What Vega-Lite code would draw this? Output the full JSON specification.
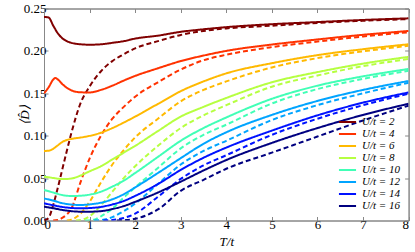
{
 "$schema": "https://vega.github.io/schema/vega-lite/v6.json",
 "width": 364.6, "height": 212,
 "autosize": "none",
 "padding": {"left": 44, "top": 8.5, "right": 6.4, "bottom": 31.5},
 "config": {
  "font": "Liberation Serif",
  "view": {"stroke": "#888", "strokeWidth": 1},
  "axis": {"labelFont": "Liberation Serif", "labelFontSize": 13, "labelColor": "#000", "titleFont": "Liberation Serif", "titleFontSize": 13, "titleFontWeight": "normal", "titleFontStyle": "italic", "titleColor": "#000", "tickColor": "#888", "domainColor": "#888", "grid": false, "tickSize": -4, "labelPadding": 2},
  "legend": {"labelFont": "Liberation Serif", "labelFontSize": 11, "labelFontStyle": "italic", "labelColor": "#000", "symbolType": "M-1.9,0H1.9", "symbolSize": 81, "symbolStrokeWidth": 2, "rowPadding": 0, "labelOffset": 9, "padding": 0}
 },
 "data": {"values": [
  {"T":0,"D":0.240,"U":2,"k":"s"},{"T":0.1,"D":0.2395,"U":2,"k":"s"},{"T":0.2,"D":0.230,"U":2,"k":"s"},{"T":0.3,"D":0.221,"U":2,"k":"s"},{"T":0.4,"D":0.215,"U":2,"k":"s"},{"T":0.5,"D":0.2115,"U":2,"k":"s"},{"T":0.6,"D":0.2095,"U":2,"k":"s"},{"T":0.8,"D":0.2078,"U":2,"k":"s"},{"T":1,"D":0.2073,"U":2,"k":"s"},{"T":1.25,"D":0.2078,"U":2,"k":"s"},{"T":1.5,"D":0.2095,"U":2,"k":"s"},{"T":1.75,"D":0.2115,"U":2,"k":"s"},{"T":2,"D":0.2145,"U":2,"k":"s"},{"T":2.5,"D":0.218,"U":2,"k":"s"},{"T":3,"D":0.2225,"U":2,"k":"s"},{"T":3.5,"D":0.2255,"U":2,"k":"s"},{"T":4,"D":0.228,"U":2,"k":"s"},{"T":5,"D":0.2315,"U":2,"k":"s"},{"T":6,"D":0.234,"U":2,"k":"s"},{"T":7,"D":0.2365,"U":2,"k":"s"},{"T":8,"D":0.2384,"U":2,"k":"s"},
  {"T":0,"D":0,"U":2,"k":"d"},{"T":0.1,"D":0.003,"U":2,"k":"d"},{"T":0.2,"D":0.018,"U":2,"k":"d"},{"T":0.3,"D":0.038,"U":2,"k":"d"},{"T":0.4,"D":0.06,"U":2,"k":"d"},{"T":0.5,"D":0.082,"U":2,"k":"d"},{"T":0.6,"D":0.103,"U":2,"k":"d"},{"T":0.8,"D":0.138,"U":2,"k":"d"},{"T":1,"D":0.158,"U":2,"k":"d"},{"T":1.25,"D":0.176,"U":2,"k":"d"},{"T":1.5,"D":0.188,"U":2,"k":"d"},{"T":1.75,"D":0.196,"U":2,"k":"d"},{"T":2,"D":0.203,"U":2,"k":"d"},{"T":2.5,"D":0.2115,"U":2,"k":"d"},{"T":3,"D":0.2188,"U":2,"k":"d"},{"T":3.5,"D":0.2235,"U":2,"k":"d"},{"T":4,"D":0.2265,"U":2,"k":"d"},{"T":5,"D":0.2297,"U":2,"k":"d"},{"T":6,"D":0.233,"U":2,"k":"d"},{"T":7,"D":0.2355,"U":2,"k":"d"},{"T":8,"D":0.2375,"U":2,"k":"d"},
  {"T":0,"D":0.150,"U":4,"k":"s"},{"T":0.1,"D":0.157,"U":4,"k":"s"},{"T":0.2,"D":0.166,"U":4,"k":"s"},{"T":0.25,"D":0.168,"U":4,"k":"s"},{"T":0.3,"D":0.1665,"U":4,"k":"s"},{"T":0.4,"D":0.161,"U":4,"k":"s"},{"T":0.5,"D":0.1565,"U":4,"k":"s"},{"T":0.6,"D":0.1535,"U":4,"k":"s"},{"T":0.8,"D":0.1512,"U":4,"k":"s"},{"T":1,"D":0.151,"U":4,"k":"s"},{"T":1.25,"D":0.154,"U":4,"k":"s"},{"T":1.5,"D":0.159,"U":4,"k":"s"},{"T":1.75,"D":0.165,"U":4,"k":"s"},{"T":2,"D":0.1705,"U":4,"k":"s"},{"T":2.5,"D":0.1795,"U":4,"k":"s"},{"T":3,"D":0.188,"U":4,"k":"s"},{"T":3.5,"D":0.1945,"U":4,"k":"s"},{"T":4,"D":0.2,"U":4,"k":"s"},{"T":5,"D":0.2075,"U":4,"k":"s"},{"T":6,"D":0.2135,"U":4,"k":"s"},{"T":7,"D":0.219,"U":4,"k":"s"},{"T":8,"D":0.2235,"U":4,"k":"s"},
  {"T":0.2,"D":0,"U":4,"k":"d"},{"T":0.3,"D":0.0005,"U":4,"k":"d"},{"T":0.4,"D":0.003,"U":4,"k":"d"},{"T":0.5,"D":0.007,"U":4,"k":"d"},{"T":0.6,"D":0.014,"U":4,"k":"d"},{"T":0.8,"D":0.045,"U":4,"k":"d"},{"T":1,"D":0.073,"U":4,"k":"d"},{"T":1.25,"D":0.1,"U":4,"k":"d"},{"T":1.5,"D":0.12,"U":4,"k":"d"},{"T":1.75,"D":0.134,"U":4,"k":"d"},{"T":2,"D":0.146,"U":4,"k":"d"},{"T":2.5,"D":0.163,"U":4,"k":"d"},{"T":3,"D":0.178,"U":4,"k":"d"},{"T":3.5,"D":0.189,"U":4,"k":"d"},{"T":4,"D":0.1955,"U":4,"k":"d"},{"T":5,"D":0.2045,"U":4,"k":"d"},{"T":6,"D":0.211,"U":4,"k":"d"},{"T":7,"D":0.217,"U":4,"k":"d"},{"T":8,"D":0.222,"U":4,"k":"d"},
  {"T":0,"D":0.082,"U":6,"k":"s"},{"T":0.1,"D":0.0823,"U":6,"k":"s"},{"T":0.2,"D":0.0845,"U":6,"k":"s"},{"T":0.3,"D":0.0885,"U":6,"k":"s"},{"T":0.4,"D":0.0925,"U":6,"k":"s"},{"T":0.5,"D":0.095,"U":6,"k":"s"},{"T":0.6,"D":0.0962,"U":6,"k":"s"},{"T":0.8,"D":0.0978,"U":6,"k":"s"},{"T":1,"D":0.0998,"U":6,"k":"s"},{"T":1.25,"D":0.1035,"U":6,"k":"s"},{"T":1.5,"D":0.109,"U":6,"k":"s"},{"T":1.75,"D":0.1155,"U":6,"k":"s"},{"T":2,"D":0.1225,"U":6,"k":"s"},{"T":2.5,"D":0.1375,"U":6,"k":"s"},{"T":3,"D":0.1525,"U":6,"k":"s"},{"T":3.5,"D":0.164,"U":6,"k":"s"},{"T":4,"D":0.1735,"U":6,"k":"s"},{"T":5,"D":0.1855,"U":6,"k":"s"},{"T":6,"D":0.195,"U":6,"k":"s"},{"T":7,"D":0.202,"U":6,"k":"s"},{"T":8,"D":0.2078,"U":6,"k":"s"},
  {"T":0.5,"D":0,"U":6,"k":"d"},{"T":0.6,"D":0.001,"U":6,"k":"d"},{"T":0.8,"D":0.008,"U":6,"k":"d"},{"T":1,"D":0.022,"U":6,"k":"d"},{"T":1.25,"D":0.045,"U":6,"k":"d"},{"T":1.5,"D":0.066,"U":6,"k":"d"},{"T":1.75,"D":0.083,"U":6,"k":"d"},{"T":2,"D":0.098,"U":6,"k":"d"},{"T":2.5,"D":0.12,"U":6,"k":"d"},{"T":3,"D":0.1405,"U":6,"k":"d"},{"T":3.5,"D":0.154,"U":6,"k":"d"},{"T":4,"D":0.164,"U":6,"k":"d"},{"T":5,"D":0.1805,"U":6,"k":"d"},{"T":6,"D":0.1915,"U":6,"k":"d"},{"T":7,"D":0.1995,"U":6,"k":"d"},{"T":8,"D":0.206,"U":6,"k":"d"},
  {"T":0,"D":0.0517,"U":8,"k":"s"},{"T":0.2,"D":0.0502,"U":8,"k":"s"},{"T":0.4,"D":0.0488,"U":8,"k":"s"},{"T":0.6,"D":0.0495,"U":8,"k":"s"},{"T":0.8,"D":0.053,"U":8,"k":"s"},{"T":1,"D":0.058,"U":8,"k":"s"},{"T":1.25,"D":0.064,"U":8,"k":"s"},{"T":1.5,"D":0.072,"U":8,"k":"s"},{"T":1.75,"D":0.08,"U":8,"k":"s"},{"T":2,"D":0.088,"U":8,"k":"s"},{"T":2.5,"D":0.1055,"U":8,"k":"s"},{"T":3,"D":0.1225,"U":8,"k":"s"},{"T":3.5,"D":0.134,"U":8,"k":"s"},{"T":4,"D":0.1445,"U":8,"k":"s"},{"T":5,"D":0.163,"U":8,"k":"s"},{"T":6,"D":0.175,"U":8,"k":"s"},{"T":7,"D":0.185,"U":8,"k":"s"},{"T":8,"D":0.193,"U":8,"k":"s"},
  {"T":0.7,"D":0,"U":8,"k":"d"},{"T":0.8,"D":0.0005,"U":8,"k":"d"},{"T":1,"D":0.005,"U":8,"k":"d"},{"T":1.25,"D":0.018,"U":8,"k":"d"},{"T":1.5,"D":0.034,"U":8,"k":"d"},{"T":1.75,"D":0.05,"U":8,"k":"d"},{"T":2,"D":0.064,"U":8,"k":"d"},{"T":2.5,"D":0.088,"U":8,"k":"d"},{"T":3,"D":0.109,"U":8,"k":"d"},{"T":3.5,"D":0.124,"U":8,"k":"d"},{"T":4,"D":0.136,"U":8,"k":"d"},{"T":5,"D":0.1578,"U":8,"k":"d"},{"T":6,"D":0.171,"U":8,"k":"d"},{"T":7,"D":0.182,"U":8,"k":"d"},{"T":8,"D":0.1905,"U":8,"k":"d"},
  {"T":0,"D":0.036,"U":10,"k":"s"},{"T":0.2,"D":0.033,"U":10,"k":"s"},{"T":0.4,"D":0.03,"U":10,"k":"s"},{"T":0.6,"D":0.0289,"U":10,"k":"s"},{"T":0.8,"D":0.0292,"U":10,"k":"s"},{"T":1,"D":0.0305,"U":10,"k":"s"},{"T":1.25,"D":0.034,"U":10,"k":"s"},{"T":1.5,"D":0.04,"U":10,"k":"s"},{"T":1.75,"D":0.047,"U":10,"k":"s"},{"T":2,"D":0.056,"U":10,"k":"s"},{"T":2.5,"D":0.075,"U":10,"k":"s"},{"T":3,"D":0.094,"U":10,"k":"s"},{"T":3.5,"D":0.109,"U":10,"k":"s"},{"T":4,"D":0.1215,"U":10,"k":"s"},{"T":5,"D":0.1435,"U":10,"k":"s"},{"T":6,"D":0.159,"U":10,"k":"s"},{"T":7,"D":0.17,"U":10,"k":"s"},{"T":8,"D":0.1787,"U":10,"k":"s"},
  {"T":0.9,"D":0,"U":10,"k":"d"},{"T":1.1,"D":0.001,"U":10,"k":"d"},{"T":1.25,"D":0.005,"U":10,"k":"d"},{"T":1.5,"D":0.014,"U":10,"k":"d"},{"T":1.75,"D":0.027,"U":10,"k":"d"},{"T":2,"D":0.039,"U":10,"k":"d"},{"T":2.5,"D":0.062,"U":10,"k":"d"},{"T":3,"D":0.085,"U":10,"k":"d"},{"T":3.5,"D":0.101,"U":10,"k":"d"},{"T":4,"D":0.113,"U":10,"k":"d"},{"T":5,"D":0.138,"U":10,"k":"d"},{"T":6,"D":0.155,"U":10,"k":"d"},{"T":7,"D":0.167,"U":10,"k":"d"},{"T":8,"D":0.1765,"U":10,"k":"d"},
  {"T":0,"D":0.026,"U":12,"k":"s"},{"T":0.2,"D":0.0235,"U":12,"k":"s"},{"T":0.4,"D":0.0205,"U":12,"k":"s"},{"T":0.6,"D":0.0188,"U":12,"k":"s"},{"T":0.8,"D":0.0183,"U":12,"k":"s"},{"T":1,"D":0.019,"U":12,"k":"s"},{"T":1.25,"D":0.021,"U":12,"k":"s"},{"T":1.5,"D":0.025,"U":12,"k":"s"},{"T":1.75,"D":0.031,"U":12,"k":"s"},{"T":2,"D":0.039,"U":12,"k":"s"},{"T":2.5,"D":0.056,"U":12,"k":"s"},{"T":3,"D":0.0735,"U":12,"k":"s"},{"T":3.5,"D":0.0905,"U":12,"k":"s"},{"T":4,"D":0.104,"U":12,"k":"s"},{"T":5,"D":0.1245,"U":12,"k":"s"},{"T":6,"D":0.141,"U":12,"k":"s"},{"T":7,"D":0.154,"U":12,"k":"s"},{"T":8,"D":0.1645,"U":12,"k":"s"},
  {"T":1.1,"D":0,"U":12,"k":"d"},{"T":1.25,"D":0.0005,"U":12,"k":"d"},{"T":1.5,"D":0.004,"U":12,"k":"d"},{"T":1.75,"D":0.011,"U":12,"k":"d"},{"T":2,"D":0.02,"U":12,"k":"d"},{"T":2.5,"D":0.043,"U":12,"k":"d"},{"T":3,"D":0.066,"U":12,"k":"d"},{"T":3.5,"D":0.082,"U":12,"k":"d"},{"T":4,"D":0.094,"U":12,"k":"d"},{"T":5,"D":0.1185,"U":12,"k":"d"},{"T":6,"D":0.136,"U":12,"k":"d"},{"T":7,"D":0.15,"U":12,"k":"d"},{"T":8,"D":0.1625,"U":12,"k":"d"},
  {"T":0,"D":0.0203,"U":14,"k":"s"},{"T":0.2,"D":0.018,"U":14,"k":"s"},{"T":0.4,"D":0.016,"U":14,"k":"s"},{"T":0.6,"D":0.0148,"U":14,"k":"s"},{"T":0.8,"D":0.0144,"U":14,"k":"s"},{"T":1,"D":0.0147,"U":14,"k":"s"},{"T":1.25,"D":0.016,"U":14,"k":"s"},{"T":1.5,"D":0.019,"U":14,"k":"s"},{"T":1.75,"D":0.023,"U":14,"k":"s"},{"T":2,"D":0.029,"U":14,"k":"s"},{"T":2.5,"D":0.043,"U":14,"k":"s"},{"T":3,"D":0.0596,"U":14,"k":"s"},{"T":3.5,"D":0.074,"U":14,"k":"s"},{"T":4,"D":0.086,"U":14,"k":"s"},{"T":5,"D":0.106,"U":14,"k":"s"},{"T":6,"D":0.124,"U":14,"k":"s"},{"T":7,"D":0.139,"U":14,"k":"s"},{"T":8,"D":0.151,"U":14,"k":"s"},
  {"T":1.3,"D":0,"U":14,"k":"d"},{"T":1.5,"D":0.0005,"U":14,"k":"d"},{"T":1.75,"D":0.003,"U":14,"k":"d"},{"T":2,"D":0.008,"U":14,"k":"d"},{"T":2.5,"D":0.028,"U":14,"k":"d"},{"T":3,"D":0.049,"U":14,"k":"d"},{"T":3.5,"D":0.065,"U":14,"k":"d"},{"T":4,"D":0.077,"U":14,"k":"d"},{"T":5,"D":0.101,"U":14,"k":"d"},{"T":6,"D":0.12,"U":14,"k":"d"},{"T":7,"D":0.136,"U":14,"k":"d"},{"T":8,"D":0.1495,"U":14,"k":"d"},
  {"T":0,"D":0.0163,"U":16,"k":"s"},{"T":0.2,"D":0.0145,"U":16,"k":"s"},{"T":0.4,"D":0.0125,"U":16,"k":"s"},{"T":0.6,"D":0.011,"U":16,"k":"s"},{"T":0.8,"D":0.0104,"U":16,"k":"s"},{"T":1,"D":0.0104,"U":16,"k":"s"},{"T":1.25,"D":0.011,"U":16,"k":"s"},{"T":1.5,"D":0.0135,"U":16,"k":"s"},{"T":1.75,"D":0.017,"U":16,"k":"s"},{"T":2,"D":0.022,"U":16,"k":"s"},{"T":2.5,"D":0.033,"U":16,"k":"s"},{"T":3,"D":0.0458,"U":16,"k":"s"},{"T":3.5,"D":0.059,"U":16,"k":"s"},{"T":4,"D":0.0713,"U":16,"k":"s"},{"T":5,"D":0.0915,"U":16,"k":"s"},{"T":6,"D":0.109,"U":16,"k":"s"},{"T":7,"D":0.1245,"U":16,"k":"s"},{"T":8,"D":0.1377,"U":16,"k":"s"},
  {"T":1.6,"D":0,"U":16,"k":"d"},{"T":1.8,"D":0.0005,"U":16,"k":"d"},{"T":2,"D":0.002,"U":16,"k":"d"},{"T":2.5,"D":0.013,"U":16,"k":"d"},{"T":3,"D":0.035,"U":16,"k":"d"},{"T":3.5,"D":0.048,"U":16,"k":"d"},{"T":4,"D":0.061,"U":16,"k":"d"},{"T":5,"D":0.08,"U":16,"k":"d"},{"T":6,"D":0.099,"U":16,"k":"d"},{"T":7,"D":0.118,"U":16,"k":"d"},{"T":8,"D":0.1355,"U":16,"k":"d"}
 ]},
 "layer": [
  {
   "mark": {"type": "line", "strokeWidth": 2, "interpolate": "monotone", "clip": true},
   "encoding": {
    "x": {"field": "T", "type": "quantitative", "scale": {"domain": [0, 8], "nice": false}, "axis": {"values": [0,1,2,3,4,5,6,7,8], "format": "d", "title": "T/t", "titlePadding": 4}},
    "y": {"field": "D", "type": "quantitative", "scale": {"domain": [0, 0.25], "nice": false}, "axis": {"values": [0,0.05,0.1,0.15,0.2,0.25], "format": ".2f", "title": "⟨D̂⟩", "titlePadding": -8}},
    "color": {"field": "U", "type": "nominal", "scale": {"domain": [2,4,6,8,10,12,14,16], "range": ["#800000","#ff3200","#ffb900","#b6ff41","#41ffb6","#00a4ff","#0012ff","#000080"]}, "legend": {"title": null, "orient": "bottom-right", "offset": 9, "labelExpr": "'U/t = ' + datum.label"}},
    "strokeDash": {"field": "k", "type": "nominal", "scale": {"domain": ["s","d"], "range": [[1,0],[5,3]]}, "legend": null}
   }
  },
  {
   "mark": {"type": "line", "opacity": 0},
   "encoding": {
    "x": {"field": "T", "type": "quantitative", "axis": {"orient": "top", "values": [0,1,2,3,4,5,6,7,8], "labels": false, "title": null}},
    "y": {"field": "D", "type": "quantitative", "axis": {"orient": "right", "values": [0,0.05,0.1,0.15,0.2,0.25], "labels": false, "title": null}},
    "detail": {"field": "U", "type": "nominal"}
   }
  }
 ],
 "resolve": {"axis": {"x": "independent", "y": "independent"}}
}
